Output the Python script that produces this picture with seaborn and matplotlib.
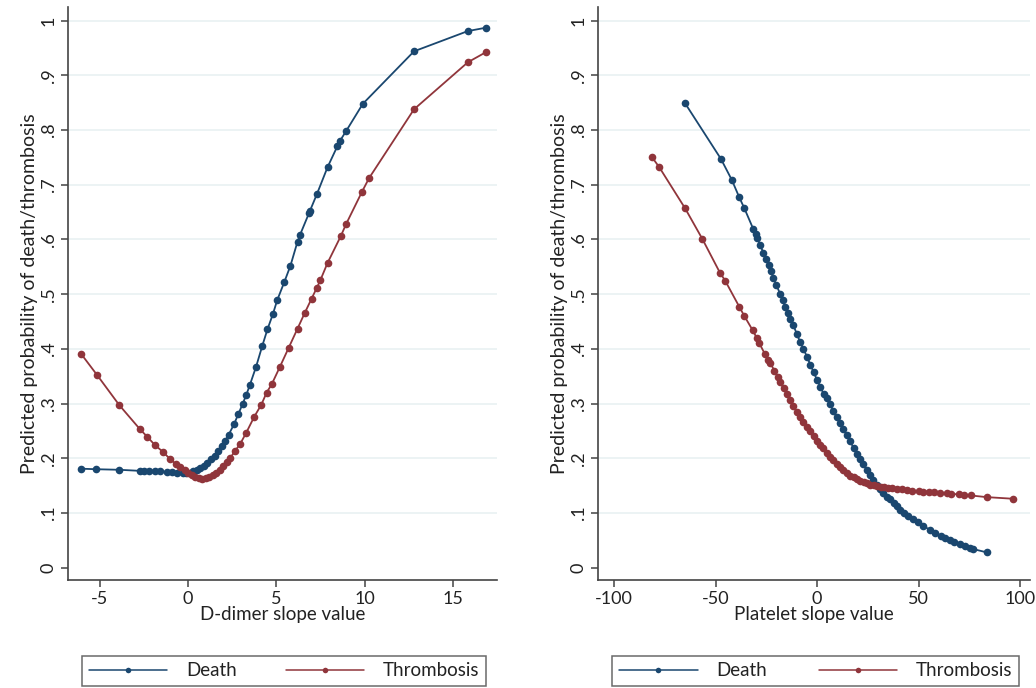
import matplotlib
matplotlib.use('Agg')
import matplotlib.pyplot as plt
import seaborn as sns

# Left panel: D-dimer slope
dd_death_x = [-6.08, -5.2, -3.9, -2.7, -2.5, -2.2, -1.9, -1.6, -1.2, -0.9, -0.6, -0.3, -0.1,
              0.1, 0.3, 0.5, 0.7, 0.9, 1.1, 1.3, 1.5, 1.7, 1.9, 2.1, 2.3, 2.6, 2.85, 3.1,
              3.3, 3.5, 3.85, 4.2, 4.5, 4.8, 5.05, 5.45, 5.8, 6.2, 6.35, 6.85, 6.9, 7.3,
              7.9, 8.45, 8.6, 8.95, 9.9, 12.8, 15.85, 16.85]
dd_death_y = [0.181, 0.180, 0.179, 0.177, 0.177, 0.176, 0.176, 0.176, 0.175, 0.175, 0.174,
              0.174, 0.174, 0.174, 0.176, 0.178, 0.182, 0.186, 0.192, 0.198, 0.205, 0.213,
              0.222, 0.232, 0.243, 0.262, 0.281, 0.300, 0.316, 0.334, 0.367, 0.405, 0.436,
              0.463, 0.489, 0.522, 0.552, 0.596, 0.609, 0.648, 0.652, 0.683, 0.732, 0.770,
              0.780, 0.798, 0.848, 0.944, 0.981, 0.987]
dd_thromb_x = [-6.06, -5.17, -3.89, -2.72, -2.30, -1.9, -1.4, -1.0, -0.7, -0.45, -0.2, 0.0,
               0.2, 0.4, 0.6, 0.8, 1.0, 1.2, 1.4, 1.6, 1.8, 2.0, 2.2, 2.4, 2.65, 2.95, 3.3,
               3.75, 4.15, 4.45, 4.75, 5.2, 5.7, 6.2, 6.6, 7.0, 7.3, 7.5, 7.9, 8.65, 8.95,
               9.85, 10.25, 12.8, 15.85, 16.85]
dd_thromb_y = [0.391, 0.353, 0.297, 0.253, 0.239, 0.225, 0.211, 0.198, 0.190, 0.184, 0.178,
               0.173, 0.169, 0.166, 0.164, 0.163, 0.164, 0.166, 0.170, 0.174, 0.179, 0.185,
               0.193, 0.201, 0.213, 0.226, 0.247, 0.276, 0.298, 0.320, 0.336, 0.367, 0.402,
               0.437, 0.465, 0.492, 0.512, 0.526, 0.557, 0.606, 0.628, 0.687, 0.712, 0.838,
               0.924, 0.942]

# Right panel: platelet slope
pl_death_x = [-65.0, -47.3, -42.0, -38.3, -35.8, -31.4, -30.2, -29.4, -28.0, -26.4, -25.2,
              -23.9, -22.6, -21.5, -20.0, -18.2, -17.0, -15.7, -14.5, -13.3, -11.7, -10.0,
              -8.4, -6.7, -5.0, -3.3, -1.6, 0.0, 1.6, 3.2, 4.8, 6.4, 8.0, 9.6, 11.2, 12.9,
              14.6, 16.3, 18.0, 19.6, 21.2, 22.8, 24.4, 26.0, 27.7, 29.4, 31.0, 32.7, 34.4,
              36.0, 37.7, 39.4, 41.0, 43.0, 45.0, 47.3, 49.5, 52.0, 55.7, 58.0, 61.0, 63.0,
              65.5, 67.5, 70.4, 73.0, 75.4, 77.0, 83.6]
pl_death_y = [0.849, 0.747, 0.709, 0.677, 0.657, 0.619, 0.610, 0.602, 0.590, 0.575, 0.565,
              0.554, 0.542, 0.530, 0.516, 0.501, 0.490, 0.477, 0.466, 0.455, 0.443, 0.428,
              0.413, 0.400, 0.386, 0.371, 0.357, 0.343, 0.331, 0.318, 0.310, 0.299, 0.287,
              0.275, 0.264, 0.253, 0.243, 0.231, 0.219, 0.208, 0.199, 0.189, 0.179, 0.169,
              0.160, 0.151, 0.144, 0.137, 0.130, 0.125, 0.118, 0.112, 0.106, 0.100, 0.094,
              0.089, 0.083, 0.077, 0.069, 0.064, 0.058, 0.054, 0.050, 0.047, 0.043, 0.039,
              0.036, 0.034, 0.028]
pl_thromb_x = [-81.4, -77.7, -65.0, -56.5, -47.8, -45.3, -38.3, -35.8, -31.7, -29.7, -28.4,
               -25.6, -24.0, -23.0, -21.0, -19.3, -18.2, -16.5, -15.0, -13.3, -11.7, -10.0,
               -8.4, -6.7, -5.1, -3.4, -1.7, 0.0, 1.6, 3.1, 4.8, 6.4, 8.0, 9.7, 11.3, 13.0,
               14.6, 16.3, 18.0, 19.6, 21.3, 23.0, 24.6, 26.3, 28.0, 29.6, 31.3, 33.0, 35.0,
               37.0, 39.5, 42.0, 44.5, 47.0, 50.0, 52.4, 55.0, 57.7, 60.6, 63.9, 66.0, 70.1,
               72.5, 75.8, 83.6, 96.7]
pl_thromb_y = [0.751, 0.732, 0.657, 0.601, 0.539, 0.525, 0.477, 0.460, 0.434, 0.420, 0.410,
               0.390, 0.380, 0.374, 0.360, 0.348, 0.339, 0.328, 0.318, 0.306, 0.295, 0.285,
               0.275, 0.266, 0.258, 0.249, 0.241, 0.232, 0.225, 0.218, 0.210, 0.203, 0.196,
               0.190, 0.184, 0.178, 0.173, 0.168, 0.165, 0.162, 0.159, 0.156, 0.154, 0.152,
               0.151, 0.150, 0.148, 0.147, 0.146, 0.145, 0.144, 0.143, 0.142, 0.141, 0.140,
               0.139, 0.139, 0.138, 0.137, 0.136, 0.135, 0.134, 0.133, 0.132, 0.129, 0.126]

y_ticks = [0, 0.1, 0.2, 0.3, 0.4, 0.5, 0.6, 0.7, 0.8, 0.9, 1.0]
y_tick_labels = ['0', '.1', '.2', '.3', '.4', '.5', '.6', '.7', '.8', '.9', '1']

blue = '#1a476f'
red = '#90353b'
text_col = '#222222'

sns.set_style('white')
plt.rcParams['font.family'] = ['Lato', 'DejaVu Sans']

fig = plt.figure(figsize=(10.36, 6.88), dpi=100)
ax1 = fig.add_axes([68 / 1036, 1 - 580 / 688, 429 / 1036, 573 / 688])
ax2 = fig.add_axes([598 / 1036, 1 - 580 / 688, 432 / 1036, 573 / 688])

panels = [
    (ax1, dd_death_x, dd_death_y, dd_thromb_x, dd_thromb_y, 'D-dimer slope value',
     (-6.8, 17.5), [-5, 0, 5, 10, 15]),
    (ax2, pl_death_x, pl_death_y, pl_thromb_x, pl_thromb_y, 'Platelet slope value',
     (-107.9, 104.9), [-100, -50, 0, 50, 100]),
]

for ax, dx, dy, tx, ty, xlabel, xlim, xticks in panels:
    for yv in y_ticks[1:]:
        ax.axhline(yv, color='#eaf2f3', linewidth=1.3, zorder=0)
    sns.lineplot(x=dx, y=dy, ax=ax, color=blue, marker='o', markersize=5.5,
                 markeredgewidth=0, linewidth=1.3, label='Death', sort=False)
    sns.lineplot(x=tx, y=ty, ax=ax, color=red, marker='o', markersize=5.5,
                 markeredgewidth=0, linewidth=1.3, label='Thrombosis', sort=False)
    ax.set_xlim(*xlim)
    ax.set_ylim(-0.0225, 1.025)
    ax.set_xticks(xticks)
    ax.set_xticklabels([str(v) for v in xticks])
    ax.set_yticks(y_ticks)
    ax.set_yticklabels(y_tick_labels, rotation=90, va='center')
    ax.tick_params(axis='both', direction='out', length=5, width=1.1, color='#444444',
                   labelsize=13, labelcolor=text_col, pad=3, left=True, bottom=True)
    for side in ['top', 'right']:
        ax.spines[side].set_visible(False)
    for side in ['left', 'bottom']:
        ax.spines[side].set_color('#444444')
        ax.spines[side].set_linewidth(1.2)
    ax.set_xlabel(xlabel, fontsize=13.5, color=text_col, labelpad=-1)
    ax.set_ylabel('Predicted probability of death/thrombosis', fontsize=14,
                  color=text_col, labelpad=2)
    leg = ax.legend(loc='lower left', bbox_to_anchor=(0.033, -0.185, 0.942, 0.066),
                    mode='expand', ncol=2, frameon=True, fancybox=False,
                    handlelength=4.2, fontsize=13.5, borderaxespad=0, borderpad=0.35,
                    handletextpad=1.0)
    leg.get_frame().set_edgecolor('#444444')
    leg.get_frame().set_linewidth(1.1)
    for h in leg.legend_handles:
        h.set_markersize(4)
        h.set_linewidth(1.1)
    for t in leg.get_texts():
        t.set_color(text_col)

fig.savefig('out.png', dpi=100)
